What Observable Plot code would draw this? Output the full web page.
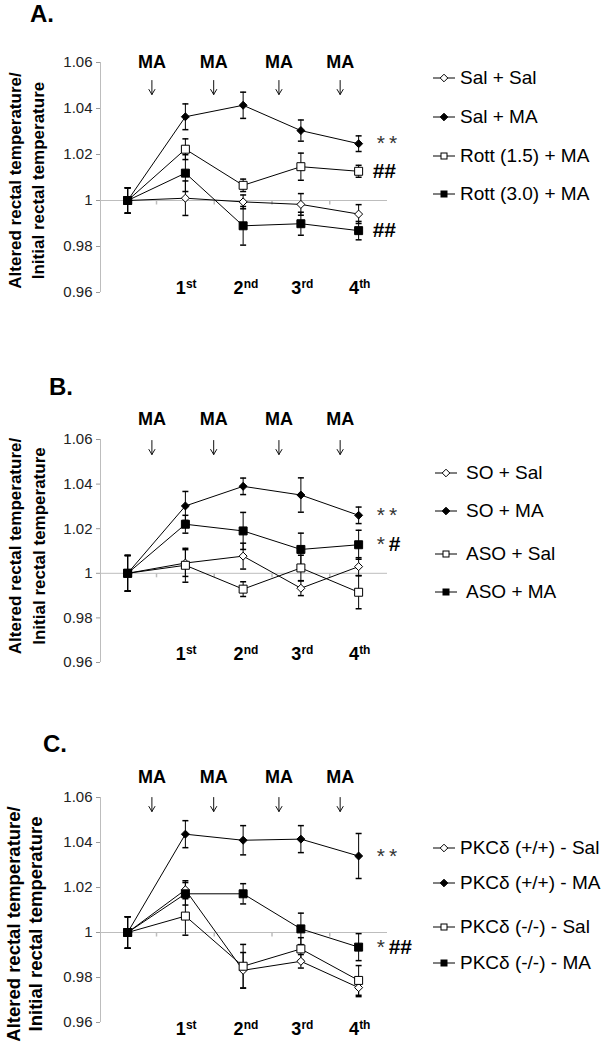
<!DOCTYPE html>
<html><head><meta charset="utf-8">
<script src="https://cdn.jsdelivr.net/npm/d3@7"></script>
<script src="https://cdn.jsdelivr.net/npm/@observablehq/plot@0.6"></script>
<style>
body{margin:0;background:#fff;font-family:"Liberation Sans",Arial,sans-serif;}
#root{position:relative;width:605px;height:1049px;overflow:hidden;background:#fff;}
.panel{position:absolute;left:0;}
.plabel{position:absolute;font-weight:bold;font-size:24px;line-height:28px;color:#000;}
.legend .item{position:absolute;display:flex;align-items:center;white-space:nowrap;font-size:19px;line-height:22px;color:#000;}
.legend svg{display:block;flex:none;}
g[aria-label="y-axis tick"]{stroke:#999;}
</style></head><body><div id="root"></div>
<script>
// ---------- shared data ----------
const periods = [0, 1, 2, 3, 4];
const ordinalNumbers = ["1", "2", "3", "4"];
const ordinalSuffixes = ["st", "nd", "rd", "th"];
const yTicks = [0.96, 0.98, 1, 1.02, 1.04, 1.06];
const yTickLabels = ["0.96", "0.98", "1", "1.02", "1.04", "1.06"];
const injectionLabel = "MA";
const injectionPos = [0.42, 1.49, 2.62, 3.68];
const yTitle = "Altered rectal temperature/\nInitial rectal temperature";
const panelLetters = ["A.", "B.", "C."];

// ---------- panel A ----------
const namesA = ["Sal + Sal", "Sal + MA", "Rott (1.5) + MA", "Rott (3.0) + MA"];
const valuesA = [
  [1, 1.001, 0.9994, 0.9983, 0.9941],
  [1, 1.0364, 1.0414, 1.0304, 1.0247],
  [1, 1.0223, 1.0066, 1.0147, 1.0127],
  [1, 1.0119, 0.989, 0.9899, 0.9869]
];
const errorsA = [
  [0.0055, 0.0075, 0.003, 0.0047, 0.0041],
  [0.0055, 0.0056, 0.0057, 0.0046, 0.0034],
  [0.0055, 0.0045, 0.0027, 0.0059, 0.0026],
  [0.0055, 0.008, 0.0084, 0.005, 0.004]
];
const notesA = [{s: 1, stars: "*\u2009*", hash: ""}, {s: 2, stars: "", hash: "##"}, {s: 3, stars: "", hash: "##"}];

// ---------- panel B ----------
const namesB = ["SO + Sal", "SO + MA", "ASO + Sal", "ASO + MA"];
const valuesB = [
  [1, 1.0046, 1.0077, 0.9933, 1.003],
  [1, 1.0302, 1.039, 1.0351, 1.026],
  [1, 1.0036, 0.9929, 1.0024, 0.9915],
  [1, 1.022, 1.019, 1.0107, 1.0128]
];
const errorsB = [
  [0.008, 0.006, 0.0058, 0.0033, 0.004],
  [0.008, 0.0065, 0.0037, 0.0077, 0.0037],
  [0.008, 0.0076, 0.0033, 0.0057, 0.0074],
  [0.008, 0.004, 0.0083, 0.0073, 0.0065]
];
const notesB = [{s: 1, stars: "*\u2009*", hash: ""}, {s: 3, stars: "*", hash: "#"}];

// ---------- panel C ----------
const namesC = ["PKCδ (+/+) - Sal", "PKCδ (+/+) - MA", "PKCδ (-/-) - Sal", "PKCδ (-/-) - MA"];
const valuesC = [
  [1, 1.019, 0.9832, 0.9872, 0.9755],
  [1, 1.0437, 1.041, 1.0415, 1.034],
  [1, 1.0073, 0.985, 0.9927, 0.9787],
  [1, 1.0172, 1.0172, 1.0016, 0.9935]
];
const errorsC = [
  [0.007, 0.004, 0.0079, 0.003, 0.004],
  [0.007, 0.006, 0.0065, 0.006, 0.01],
  [0.007, 0.0085, 0.0097, 0.005, 0.0066],
  [0.007, 0.005, 0.0045, 0.007, 0.006]
];
const notesC = [{s: 1, stars: "*\u2009*", hash: ""}, {s: 3, stars: "*", hash: "##"}];

// ---------- styles & layout ----------
const markerStyles = [
  {symbol: "diamond2", fill: "white", r: 3.6},
  {symbol: "diamond2", fill: "black", r: 3.6},
  {symbol: "square", fill: "white", r: 4.5},
  {symbol: "square", fill: "black", r: 4.5}
];
const layouts = [
  {top: 0, plotH: 230, ordDy: 1, maDy: 0, arrowDy: 18, titleSize: 17, titleDx: -75, titleDy: 3, lineHeight: 1.35,
   letter: {left: 30, top: 0}, legend: {left: 433, text: 460, centers: [78, 117, 156, 194]}},
  {top: 377, plotH: 223, ordDy: -3, maDy: -20, arrowDy: 1, titleSize: 17, titleDx: -75.5, titleDy: -5, lineHeight: 1.45,
   letter: {left: 49, top: 373}, legend: {left: 435, text: 466, centers: [473, 511, 554, 592]}},
  {top: 735, plotH: 225, ordDy: 12, maDy: -20, arrowDy: 0, titleSize: 18.5, titleDx: -77, titleDy: 14, lineHeight: 1.2,
   letter: {left: 43, top: 730}, legend: {left: 433, text: 460, centers: [848, 883, 927, 963]}}
];
const MT = 62, MB = 20, ML = 100, W = 605, MR = 218;
const xDomain = [-0.47, 4.5];
const yDomain = [0.96, 1.06];
const capSymbol = {draw(ctx) { ctx.moveTo(-3, 0); ctx.lineTo(3, 0); }};
const tickSymbol = {draw(ctx) { ctx.moveTo(0, 0); ctx.lineTo(0, 4); }};
const arrowShape = {draw(ctx, l) {
  ctx.moveTo(0, 0); ctx.lineTo(0, -l);
  ctx.moveTo(-3, -l + 5); ctx.lineTo(0, -l); ctx.lineTo(3, -l + 5);
}};

const root = document.getElementById("root");

function drawPanel(k, names, values, errors, notes) {
  const L = layouts[k];
  const rows = names.flatMap((n, s) => periods.map((p, i) => ({s, p, v: values[s][i], e: errors[s][i]})));
  const last = periods[periods.length - 1];
  const lastIdx = periods.length - 1;
  const boundaries = periods.slice(1).map(p => p - 0.5);
  const chart = Plot.plot({
    width: W, height: MT + L.plotH + MB,
    marginLeft: ML, marginRight: MR, marginTop: MT, marginBottom: MB,
    style: {fontFamily: '"Liberation Sans", Arial, sans-serif', background: "white", overflow: "visible"},
    x: {domain: xDomain, axis: null},
    y: {domain: yDomain, axis: null},
    marks: [
      Plot.ruleY([1], {stroke: "#bdbdbd"}),
      Plot.ruleX([xDomain[0]], {stroke: "#bdbdbd"}),
      Plot.dot(boundaries, {x: d => d, y: () => 1, symbol: tickSymbol, stroke: "#bdbdbd", fill: "none"}),
      Plot.axisY({ticks: yTicks, tickFormat: d => yTickLabels[yTicks.indexOf(d)], tickSize: 4, tickPadding: 4,
                  fontSize: 15, stroke: "#999", fill: "#222", label: null}),
      Plot.ruleX(rows, {x: "p", y1: d => d.v - d.e, y2: d => d.v + d.e, stroke: "black", strokeWidth: 1}),
      Plot.dot(rows, {x: "p", y: d => d.v - d.e, symbol: capSymbol, stroke: "black", fill: "none"}),
      Plot.dot(rows, {x: "p", y: d => d.v + d.e, symbol: capSymbol, stroke: "black", fill: "none"}),
      Plot.line(rows, {x: "p", y: "v", z: "s", stroke: "black", strokeWidth: 1}),
      ...names.map((n, s) => Plot.dot(rows.filter(d => d.s === s), {
        x: "p", y: "v", symbol: markerStyles[s].symbol, fill: markerStyles[s].fill,
        stroke: "black", strokeWidth: 1, r: markerStyles[s].r
      })),
      Plot.text(ordinalNumbers, {x: (d, i) => periods[i + 1], y: () => yDomain[0], text: d => d,
        textAnchor: "end", lineAnchor: "bottom", fontWeight: "bold", fontSize: 18, dy: L.ordDy, dx: 0.5}),
      Plot.text(ordinalSuffixes, {x: (d, i) => periods[i + 1], y: () => yDomain[0], text: d => d,
        textAnchor: "start", lineAnchor: "bottom", fontWeight: "bold", fontSize: 12, dy: L.ordDy - 6, dx: 0.5}),
      Plot.text(injectionPos, {x: d => d, frameAnchor: "top", text: () => injectionLabel,
        fontWeight: "bold", fontSize: 18, lineAnchor: "middle", dy: L.maDy}),
      Plot.vector(injectionPos, {x: d => d, frameAnchor: "top", length: 14, rotate: 180, anchor: "start",
        shape: arrowShape, stroke: "#111", strokeWidth: 1, dy: L.arrowDy}),
      Plot.text(notes.filter(d => d.stars), {x: () => last, y: d => values[d.s][lastIdx], text: "stars",
        textAnchor: "start", lineAnchor: "middle", fontSize: 21, fill: "#333", dx: 18}),
      Plot.text(notes.filter(d => d.hash && !d.stars), {x: () => last, y: d => values[d.s][lastIdx], text: "hash",
        textAnchor: "start", lineAnchor: "middle", fontSize: 21, fontWeight: "bold", dx: 14}),
      Plot.text(notes.filter(d => d.hash && d.stars), {x: () => last, y: d => values[d.s][lastIdx], text: "hash",
        textAnchor: "start", lineAnchor: "middle", fontSize: 21, fontWeight: "bold", dx: 30}),
      Plot.text([yTitle], {frameAnchor: "left", text: d => d, rotate: -90, textAnchor: "middle", lineAnchor: "middle",
        fontWeight: "bold", fontSize: L.titleSize, lineHeight: L.lineHeight, dx: L.titleDx, dy: L.titleDy})
    ]
  });
  const div = document.createElement("div");
  div.className = "panel";
  div.style.top = L.top + "px";
  div.appendChild(chart);
  root.appendChild(div);

  const lab = document.createElement("div");
  lab.className = "plabel";
  lab.style.left = L.letter.left + "px";
  lab.style.top = L.letter.top + "px";
  lab.textContent = panelLetters[k];
  root.appendChild(lab);

  const leg = document.createElement("div");
  leg.className = "legend";
  names.forEach((n, s) => {
    const it = document.createElement("div");
    it.className = "item";
    it.style.left = L.legend.left + "px";
    it.style.top = (L.legend.centers[s] - 11) + "px";
    const ms = markerStyles[s];
    const shape = ms.symbol === "square"
      ? `<rect x="8" y="4" width="6" height="6" fill="${ms.fill}" stroke="#000" stroke-width="1"/>`
      : `<polygon points="11,3.2 14.8,7 11,10.8 7.2,7" fill="${ms.fill}" stroke="#000" stroke-width="1"/>`;
    it.innerHTML = `<svg width="22" height="14"><line x1="0" y1="7" x2="22" y2="7" stroke="#000" stroke-width="1"/>${shape}</svg>` +
      `<span style="margin-left:${L.legend.text - L.legend.left - 22}px">${n}</span>`;
    leg.appendChild(it);
  });
  root.appendChild(leg);
}

drawPanel(0, namesA, valuesA, errorsA, notesA);
drawPanel(1, namesB, valuesB, errorsB, notesB);
drawPanel(2, namesC, valuesC, errorsC, notesC);
</script>
</body></html>
